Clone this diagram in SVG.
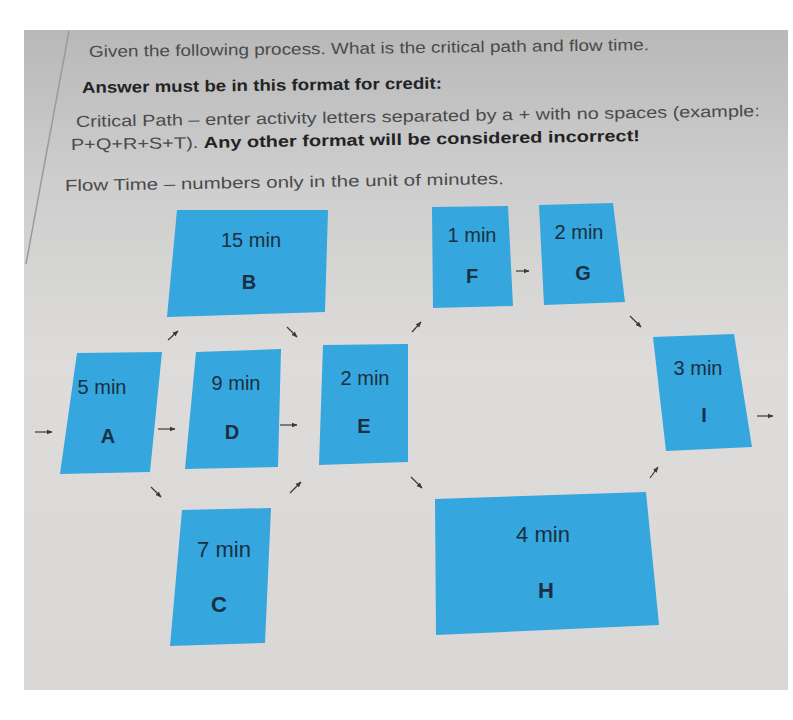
<svg xmlns="http://www.w3.org/2000/svg" width="793" height="720" viewBox="0 0 793 720">
<defs>
<linearGradient id="scr" x1="0" y1="0" x2="0" y2="1">
<stop offset="0" stop-color="#b8b8b8"/>
<stop offset="0.22" stop-color="#cdcdcd"/>
<stop offset="0.5" stop-color="#dddcda"/>
<stop offset="1" stop-color="#dad8d6"/>
</linearGradient>
<marker id="ah" viewBox="0 0 10 10" refX="9" refY="5" markerWidth="5" markerHeight="5" orient="auto">
<path d="M0,1 L10,5 L0,9 Z" fill="#3a3a3a"/>
</marker>
<style>
.box{fill:#35a6de;}
.hdr{font-family:"Liberation Sans",Arial,sans-serif;font-size:16px;fill:#4a4a4a;}
.bold{font-weight:bold;fill:#232323;}
.t{font-family:"Liberation Sans",Arial,sans-serif;fill:#1a2f42;text-anchor:middle;}
.tm{font-size:20px;}
.tl{font-size:20px;font-weight:bold;}
.tmb{font-size:22px;}
.tlb{font-size:22px;font-weight:bold;}
.arr{stroke:#3a3a3a;stroke-width:1.2;fill:none;marker-end:url(#ah);}
</style>
</defs>
<rect x="0" y="0" width="793" height="720" fill="#ffffff"/>
<rect x="24" y="30" width="764" height="660" fill="url(#scr)"/>
<line x1="69" y1="31" x2="26" y2="264" stroke="#9a9a9a" stroke-width="1.5"/>

<g id="header">
<text class="hdr" x="89" y="57" textLength="560" lengthAdjust="spacingAndGlyphs" transform="rotate(-0.7 89 57)">Given the following process. What is the critical path and flow time.</text>
<text class="hdr bold" x="82" y="93" textLength="360" lengthAdjust="spacingAndGlyphs" transform="rotate(-0.7 82 93)">Answer must be in this format for credit:</text>
<text class="hdr" x="76" y="127" textLength="684" lengthAdjust="spacingAndGlyphs" transform="rotate(-0.9 76 127)">Critical Path – enter activity letters separated by a + with no spaces (example:</text>
<text class="hdr" x="71" y="150" textLength="569" lengthAdjust="spacingAndGlyphs" transform="rotate(-0.9 71 150)">P+Q+R+S+T). <tspan class="bold">Any other format will be considered incorrect!</tspan></text>
<text class="hdr" x="65" y="191" textLength="439" lengthAdjust="spacingAndGlyphs" transform="rotate(-0.9 65 191)">Flow Time – numbers only in the unit of minutes.</text>
</g>

<g id="node-B">
<polygon class="box" points="177,210 328,210 325,312 167,317"/>
<text class="t tm" x="251" y="247">15 min</text>
<text class="t tl" x="249" y="289">B</text>
</g>
<g id="node-A">
<polygon class="box" points="77,353 162,352 150,472 60,474"/>
<text class="t tm" x="102" y="394">5 min</text>
<text class="t tl" x="108" y="443">A</text>
</g>
<g id="node-D">
<polygon class="box" points="196,352 281,349 278,467 185,469"/>
<text class="t tm" x="236" y="390">9 min</text>
<text class="t tl" x="232" y="439">D</text>
</g>
<g id="node-E">
<polygon class="box" points="323,345 408,344 408,462 319,465"/>
<text class="t tm" x="365" y="385">2 min</text>
<text class="t tl" x="364" y="433">E</text>
</g>
<g id="node-F">
<polygon class="box" points="432,207 508,206 513,306 433,308"/>
<text class="t tm" x="472" y="242">1 min</text>
<text class="t tl" x="472" y="283">F</text>
</g>
<g id="node-G">
<polygon class="box" points="539,205 613,203 625,302 544,305"/>
<text class="t tm" x="579" y="239">2 min</text>
<text class="t tl" x="583" y="280">G</text>
</g>
<g id="node-I">
<polygon class="box" points="653,337 734,334 752,447 666,451"/>
<text class="t tm" x="698" y="375">3 min</text>
<text class="t tl" x="704" y="422">I</text>
</g>
<g id="node-C">
<polygon class="box" points="182,510 271,508 265,643 170,646"/>
<text class="t tmb" x="224" y="557">7 min</text>
<text class="t tlb" x="219" y="612">C</text>
</g>
<g id="node-H">
<polygon class="box" points="435,499 646,492 659,625 436,635"/>
<text class="t tmb" x="543" y="542">4 min</text>
<text class="t tlb" x="546" y="598">H</text>
</g>

<g id="connectors">
<line class="arr" x1="35" y1="432" x2="52" y2="432"/>
<line class="arr" x1="158" y1="429" x2="175" y2="429"/>
<line class="arr" x1="168" y1="340" x2="178" y2="331"/>
<line class="arr" x1="287" y1="327" x2="297" y2="337"/>
<line class="arr" x1="280" y1="425" x2="297" y2="425"/>
<line class="arr" x1="412" y1="332" x2="421" y2="322"/>
<line class="arr" x1="516" y1="271" x2="529" y2="271"/>
<line class="arr" x1="630" y1="316" x2="641" y2="327"/>
<line class="arr" x1="757" y1="416" x2="773" y2="416"/>
<line class="arr" x1="151" y1="487" x2="161" y2="497"/>
<line class="arr" x1="290" y1="493" x2="301" y2="482"/>
<line class="arr" x1="411" y1="477" x2="422" y2="488"/>
<line class="arr" x1="650" y1="478" x2="658" y2="467"/>
</g>
</svg>
